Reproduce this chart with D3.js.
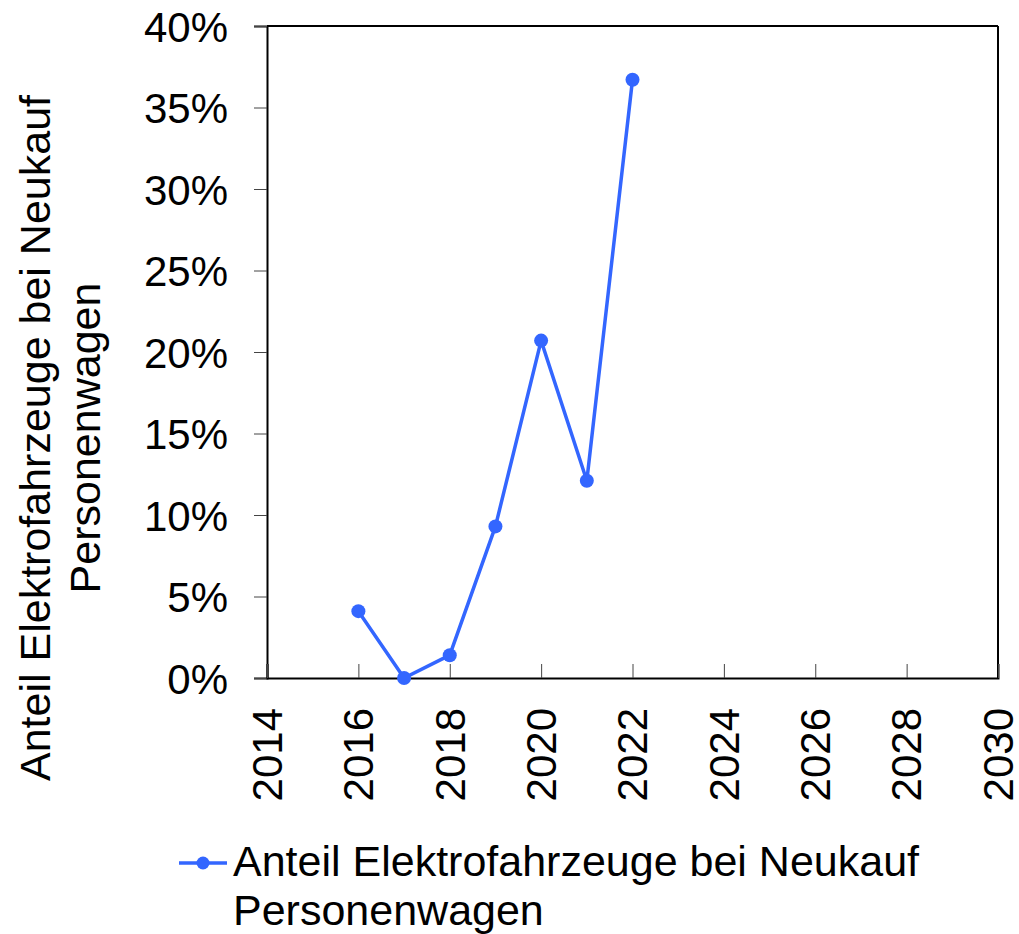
<!DOCTYPE html>
<html>
<head>
<meta charset="utf-8">
<script src="https://cdn.jsdelivr.net/npm/d3@7"></script>
<style>
  body { margin: 0; background: #fff; }
  text { font-family: "Liberation Sans", Arial, sans-serif; fill: #000; }
</style>
</head>
<body>
<div id="chart"></div>
<script>
var years = [2016, 2017, 2018, 2019, 2020, 2021, 2022];
var shares = [0.041, 0.0, 0.014, 0.093, 0.207, 0.121, 0.367];
var xTicks = [2014, 2016, 2018, 2020, 2022, 2024, 2026, 2028, 2030];
var yTicks = [0, 0.05, 0.10, 0.15, 0.20, 0.25, 0.30, 0.35, 0.40];
var seriesName = ["Anteil Elektrofahrzeuge bei Neukauf", "Personenwagen"];

var margin = {top: 26, right: 21, bottom: 256, left: 267};
var W = 1019, H = 934;
var width = W - margin.left - margin.right;
var height = H - margin.top - margin.bottom;
var blue = "#3366ff";
var fs = "42px";
var fsBig = "43px";

var svg = d3.select("#chart")
  .append("svg")
    .attr("width", W)
    .attr("height", H)
  .append("g")
    .attr("transform", "translate(" + margin.left + "," + margin.top + ")");

var x = d3.scaleLinear().domain([2014, 2030]).range([0, width]);
var y = d3.scaleLinear().domain([0, 0.4]).range([height, 0]);

// frame top / right
svg.append("line").attr("x1", 0).attr("x2", width).attr("y1", 0).attr("y2", 0)
  .attr("stroke", "#000").attr("stroke-width", 2);
svg.append("line").attr("x1", width).attr("x2", width).attr("y1", 0).attr("y2", height)
  .attr("stroke", "#000").attr("stroke-width", 2);

// y axis
var yAxis = svg.append("g")
  .call(d3.axisLeft(y).tickValues(yTicks).tickFormat(d3.format(".0%")).tickSize(13).tickPadding(26));
yAxis.select(".domain").attr("stroke-width", 2);
yAxis.selectAll(".tick line").attr("stroke", "#444");
yAxis.selectAll("text").style("font-size", fs).attr("dy", "0.36em");

// x axis (ticks point inward)
var xAxis = svg.append("g")
  .attr("transform", "translate(0," + height + ")")
  .call(d3.axisBottom(x).tickValues(xTicks).tickFormat(d3.format("d")).tickSize(-14).tickPadding(0));
xAxis.select(".domain").attr("stroke-width", 2);
xAxis.selectAll(".tick line").attr("stroke", "#444");
xAxis.selectAll("text")
  .style("font-size", fs)
  .attr("text-anchor", "end")
  .attr("transform", "rotate(-90)")
  .attr("x", -30)
  .attr("y", 0)
  .attr("dy", "0.34em");

// y title
var yTitle = svg.append("text")
  .attr("transform", "translate(" + (-margin.left + 50) + "," + (height / 2 + 86) + ") rotate(-90)")
  .attr("text-anchor", "middle")
  .style("font-size", fsBig);
yTitle.append("tspan").attr("x", 0).attr("dy", 0).text(seriesName[0]);
yTitle.append("tspan").attr("x", 0).attr("dy", 50).text(seriesName[1]);

// line + markers
svg.append("path")
  .datum(years.map(function(d, i) { return [d, shares[i]]; }))
  .attr("fill", "none")
  .attr("stroke", blue)
  .attr("stroke-width", 3.5)
  .attr("d", d3.line()
    .x(function(d) { return x(d[0]); })
    .y(function(d) { return y(d[1]); }));

svg.selectAll(".pt")
  .data(years)
  .enter().append("circle")
    .attr("cx", function(d) { return x(d); })
    .attr("cy", function(d, i) { return y(shares[i]); })
    .attr("r", 7)
    .attr("fill", blue);

// legend
var leg = d3.select("svg").append("g").attr("transform", "translate(179,863)");
leg.append("line").attr("x1", 0).attr("x2", 48).attr("y1", 0).attr("y2", 0)
  .attr("stroke", blue).attr("stroke-width", 3.5);
leg.append("circle").attr("cx", 24).attr("cy", 0).attr("r", 6.5).attr("fill", blue);
var lt = leg.append("text").style("font-size", fsBig);
lt.append("tspan").attr("x", 54).attr("y", 13).text(seriesName[0]);
lt.append("tspan").attr("x", 54).attr("y", 62).text(seriesName[1]);
</script>
</body>
</html>
